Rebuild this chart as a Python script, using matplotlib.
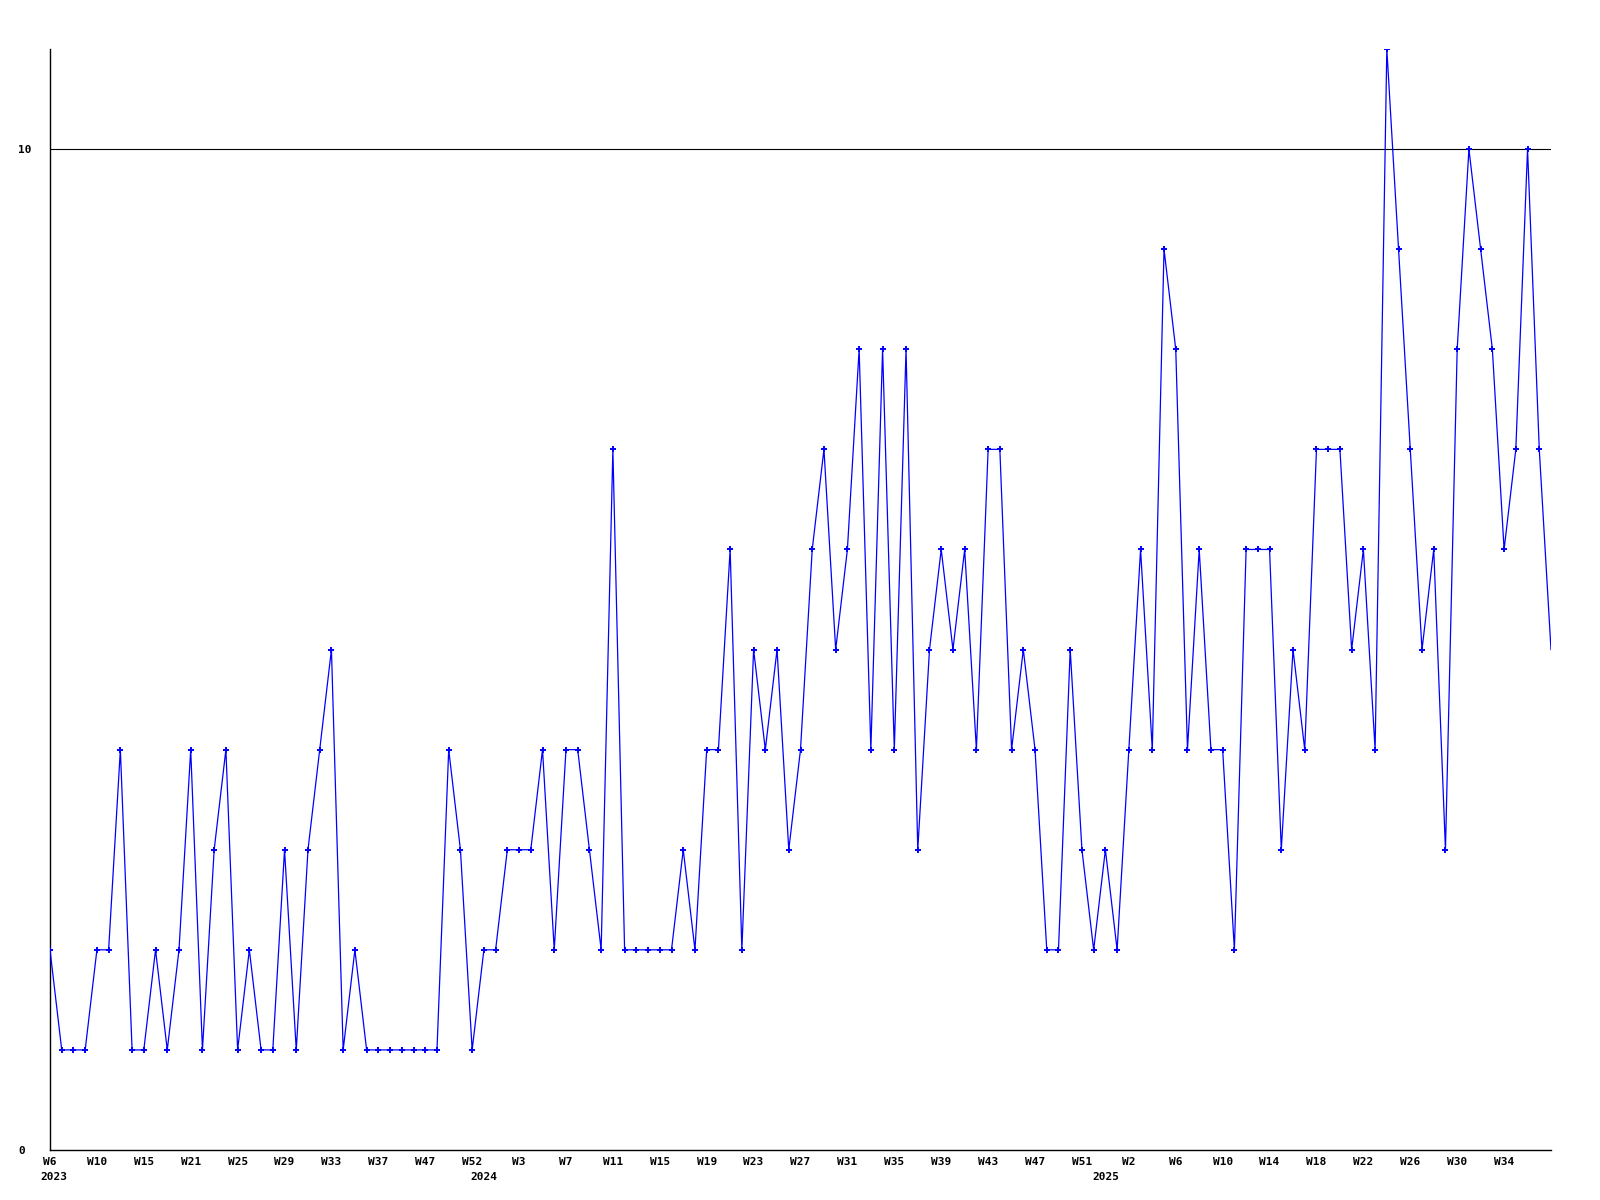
import matplotlib
matplotlib.use("Agg")
import matplotlib.pyplot as plt
import numpy as np

# weekly values, one per point (points are evenly spaced, weeks may be missing)
values = [2, 1, 1, 1, 2, 2, 4, 1, 1, 2,
          1, 2, 4, 1, 3, 4, 1, 2, 1, 1,
          3, 1, 3, 4, 5, 1, 2, 1, 1, 1,
          1, 1, 1, 1, 4, 3, 1, 2, 2, 3,
          3, 3, 4, 2, 4, 4, 3, 2, 7, 2,
          2, 2, 2, 2, 3, 2, 4, 4, 6, 2,
          5, 4, 5, 3, 4, 6, 7, 5, 6, 8,
          4, 8, 4, 8, 3, 5, 6, 5, 6, 4,
          7, 7, 4, 5, 4, 2, 2, 5, 3, 2,
          3, 2, 4, 6, 4, 9, 8, 4, 6, 4,
          4, 2, 6, 6, 6, 3, 5, 4, 7, 7,
          7, 5, 6, 4, 11, 9, 7, 5, 6, 3,
          8, 10, 9, 8, 6, 7, 10, 7, 5]

week_labels = ["W6", "W10", "W15", "W21", "W25", "W29", "W33", "W37", "W47", "W52",
               "W3", "W7", "W11", "W15", "W19", "W23", "W27", "W31", "W35", "W39",
               "W43", "W47", "W51", "W2", "W6", "W10", "W14", "W18", "W22", "W26",
               "W30", "W34"]
year_labels = ["2023", "2024", "2025"]
year_pos = [0.3, 37, 90]

x = np.arange(len(values))
y = np.array(values)

fig = plt.figure(figsize=(16, 12), dpi=100)
ax = fig.add_axes([50 / 1600, 1 - 1150 / 1200, 1501 / 1600, 1101 / 1200])

ax.plot(x, y, color="#0000ff", lw=0.9, zorder=3)
ax.plot(x[:-1], y[:-1], ls="none", marker="+", ms=4, mew=1.4, color="#0000ff", zorder=3)

ax.axhline(10, color="black", lw=0.8, zorder=1)

ax.set_xlim(0, len(values) - 1)
ax.set_ylim(0, 11)

for s in ["top", "right"]:
    ax.spines[s].set_visible(False)
for s in ["left", "bottom"]:
    ax.spines[s].set_linewidth(1.0)

font = dict(family="DejaVu Sans Mono", weight="bold", size=8)

ax.set_yticks([0, 10])
ax.set_yticklabels(["0", "10"], fontdict=font, ha="left")
ax.tick_params(axis="y", length=0, pad=23)

ax.set_xticks(np.arange(len(week_labels)) * 4)
ax.set_xticklabels(week_labels, fontdict=font)
ax.tick_params(axis="x", length=0, pad=5)

for lab, pos in zip(year_labels, year_pos):
    ax.annotate(lab, xy=(pos, 0), xycoords=("data", "axes fraction"),
                xytext=(0, -19.5), textcoords="offset points",
                ha="center", va="center", **font)

fig.savefig("out.png", dpi=100)
